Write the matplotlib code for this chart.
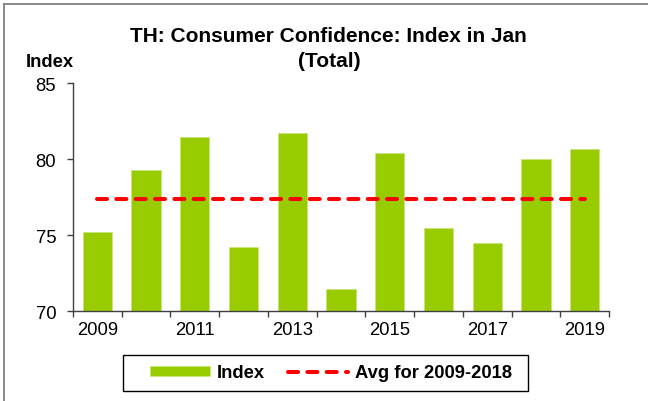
#!/usr/bin/env python3
# -*- coding: UTF-8 -*-
"""
TH: Consumer Confidence, index in January
"""
import matplotlib
matplotlib.use('Agg')
import matplotlib.pyplot as plt
import matplotlib.patches as patches
from matplotlib.lines import Line2D

plt.rcParams['font.family'] = ['Liberation Sans', 'DejaVu Sans']

years = [2009, 2010, 2011, 2012, 2013, 2014, 2015, 2016, 2017, 2018, 2019]
index_vals = [75.2, 79.3, 81.5, 74.2, 81.7, 71.5, 80.4, 75.5, 74.5, 80.0, 80.7]
avg_vals = [77.4] * len(years)   # avg 2009-2018, drawn across the whole range
tick_labels = ['2009', '2011', '2013', '2015', '2017', '2019']
yticks = [70, 75, 80, 85]

GREEN = '#99cc00'
RED = '#ff0000'
W, H = 648, 402

fig = plt.figure(figsize=(6.48, 4.02), dpi=100)
ax = fig.add_axes([0.1127, 0.2231, 0.8271, 0.5672])

pos = list(range(len(years)))
bars = ax.bar(pos, index_vals, width=0.6, color=GREEN, edgecolor='#c8e67a',
              linewidth=0.6, label='Index', zorder=2)
avg_line, = ax.plot(pos, avg_vals, color=RED, lw=2.9,
                    linestyle=(0, (2.5, 2.3)), dash_capstyle='round',
                    label='Avg for 2009-2018', zorder=3)

ax.set_xlim(-0.5, len(years) - 0.5)
ax.set_ylim(70, 85)
ax.set_yticks(yticks)

# tick marks on category boundaries, labels under every 2nd bar
ax.set_xticks([p - 0.5 for p in pos] + [len(years) - 0.5])
ax.set_xticklabels([])
ax.set_xticks([pos[i] for i in range(0, len(years), 2)], minor=True)
ax.set_xticklabels(tick_labels, minor=True)
ax.tick_params(axis='x', which='minor', length=0, pad=7, labelsize=13.3)
ax.tick_params(axis='x', which='major', length=4.5, width=1, color='#404040')
ax.tick_params(axis='y', length=4, width=1, color='#404040', pad=8,
               labelsize=13.3)

for s in ['top', 'right']:
    ax.spines[s].set_visible(False)
for s in ['left', 'bottom']:
    ax.spines[s].set_color('#404040')
    ax.spines[s].set_linewidth(1)

fig.text(0.5075, 1 - 42.3 / H, 'TH: Consumer Confidence: Index in Jan',
         ha='center', va='baseline', fontsize=15, fontweight='bold')
fig.text(0.5075, 1 - 66.7 / H, '(Total)',
         ha='center', va='baseline', fontsize=15, fontweight='bold')
fig.text(0.077, 1 - 66.7 / H, 'Index', ha='center', va='baseline',
         fontsize=13.2, fontweight='bold')

leg = fig.legend([bars, avg_line], ['Index', 'Avg for 2009-2018'],
                 loc='center', bbox_to_anchor=(331 / W, 1 - 374 / H), ncol=2,
                 frameon=False, prop={'weight': 'bold', 'size': 13.2},
                 handlelength=3.25, handleheight=0.5, handletextpad=0.4,
                 columnspacing=1.25, borderpad=0.3)

# legend box, a bit wider on the left than the entries
fig.add_artist(patches.Rectangle((123 / W, 1 - 392 / H), 405 / W, 36 / H,
                                 transform=fig.transFigure, fill=False,
                                 edgecolor='black', lw=1))

# outer frame visible at the top and left of the picture
fig.add_artist(Line2D([4 / W, 1], [1 - 5 / H, 1 - 5 / H],
                      transform=fig.transFigure, color='#808080', lw=1.3))
fig.add_artist(Line2D([4 / W, 4 / W], [0, 1 - 5 / H],
                      transform=fig.transFigure, color='#808080', lw=1.3))

fig.savefig('out.png', dpi=100)
